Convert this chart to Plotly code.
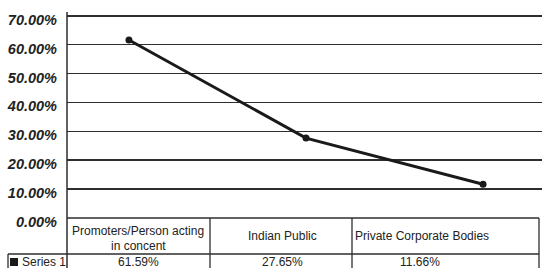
import plotly.graph_objects as go

# ---- data ----
categories_line1 = ["Promoters/Person acting", "Indian Public", "Private Corporate Bodies"]
categories_line2 = ["in concent", "", ""]
series_name = "Series 1"
series_values = [0.6159, 0.2765, 0.1166]
y_ticks = [0.0, 0.1, 0.2, 0.3, 0.4, 0.5, 0.6, 0.7]

# ---- layout constants (pixels) ----
W, H = 542, 268
ML, MR, MT, MB = 67, 0, 12, 50
PW, PH = W - ML - MR, H - MT - MB
Y0 = MT + PH  # pixel row of y = 0


def px(x):
    return (x - ML) / PW


def py(y):
    return (Y0 - y) / PH


TXT = "#222222"
LINE = "#2e2e2e"
col_edges = [67, 210, 352, 539]
col_text_x = [138, 282, 422]
value_text_x = [138, 282, 420]

fig = go.Figure()
fig.add_trace(go.Scatter(
    x=list(range(len(series_values))),
    y=series_values,
    mode="lines+markers",
    name=series_name,
    line=dict(color="#1a1a1a", width=3),
    marker=dict(color="#1a1a1a", size=7),
    showlegend=False,
    hoverinfo="skip",
))

shapes = []


def seg(x0, y0, x1, y1, w=1.3, c=LINE):
    shapes.append(dict(type="line", xref="paper", yref="paper",
                       x0=px(x0), y0=py(y0), x1=px(x1), y1=py(y1),
                       line=dict(color=c, width=w), layer="above"))


# table lines
seg(67, 218, 539, 218)
seg(8, 254, 539, 254)
seg(67, MT, 67, 268, w=1.5)
for xe in col_edges[1:]:
    seg(xe, 218, xe, 268)
seg(8, 254, 8, 268)
# legend key square
shapes.append(dict(type="rect", xref="paper", yref="paper",
                   x0=px(10), x1=px(18), y0=py(258), y1=py(266),
                   fillcolor="#1a1a1a", line=dict(width=0)))

ann = []
font_cell = dict(family="Liberation Sans, Arial", size=12, color=TXT)
for i, (l1, l2) in enumerate(zip(categories_line1, categories_line2)):
    if l2:
        ann.append(dict(text=l1, x=px(col_text_x[i]), y=py(231), xref="paper", yref="paper",
                        showarrow=False, font=font_cell, xanchor="center", yanchor="middle"))
        ann.append(dict(text=l2, x=px(col_text_x[i]), y=py(246), xref="paper", yref="paper",
                        showarrow=False, font=font_cell, xanchor="center", yanchor="middle"))
    else:
        ann.append(dict(text=l1, x=px(col_text_x[i]), y=py(236), xref="paper", yref="paper",
                        showarrow=False, font=font_cell, xanchor="center", yanchor="middle"))
    ann.append(dict(text=f"{series_values[i]*100:.2f}%", x=px(value_text_x[i]), y=py(262),
                    xref="paper", yref="paper", showarrow=False, font=font_cell,
                    xanchor="center", yanchor="middle"))
ann.append(dict(text=series_name, x=px(20), y=py(262), xref="paper", yref="paper",
                showarrow=False, font=font_cell, xanchor="left", yanchor="middle"))

fig.update_layout(
    width=W, height=H,
    margin=dict(l=ML, r=MR, t=MT, b=MB, pad=0),
    paper_bgcolor="white", plot_bgcolor="white",
    shapes=shapes, annotations=ann,
    xaxis=dict(range=[-0.35, 2.333], showticklabels=False, showgrid=False,
               zeroline=False, showline=False, fixedrange=True),
    yaxis=dict(range=[0, 0.7128], tickvals=y_ticks, tickformat=".2%",
               showgrid=True, gridcolor=LINE, gridwidth=1.6,
               zeroline=False, showline=False, ticks="", fixedrange=True,
               ticklabelstandoff=9, ticklabelshift=4,
               tickfont=dict(family="Liberation Sans", size=14.5, color=TXT,
                             weight="bold", style="italic")),
)

fig.write_html("out.html",
               config={"displayModeBar": False, "staticPlot": True},
               post_script="document.body.style.margin='0';document.body.style.overflow='hidden';")
